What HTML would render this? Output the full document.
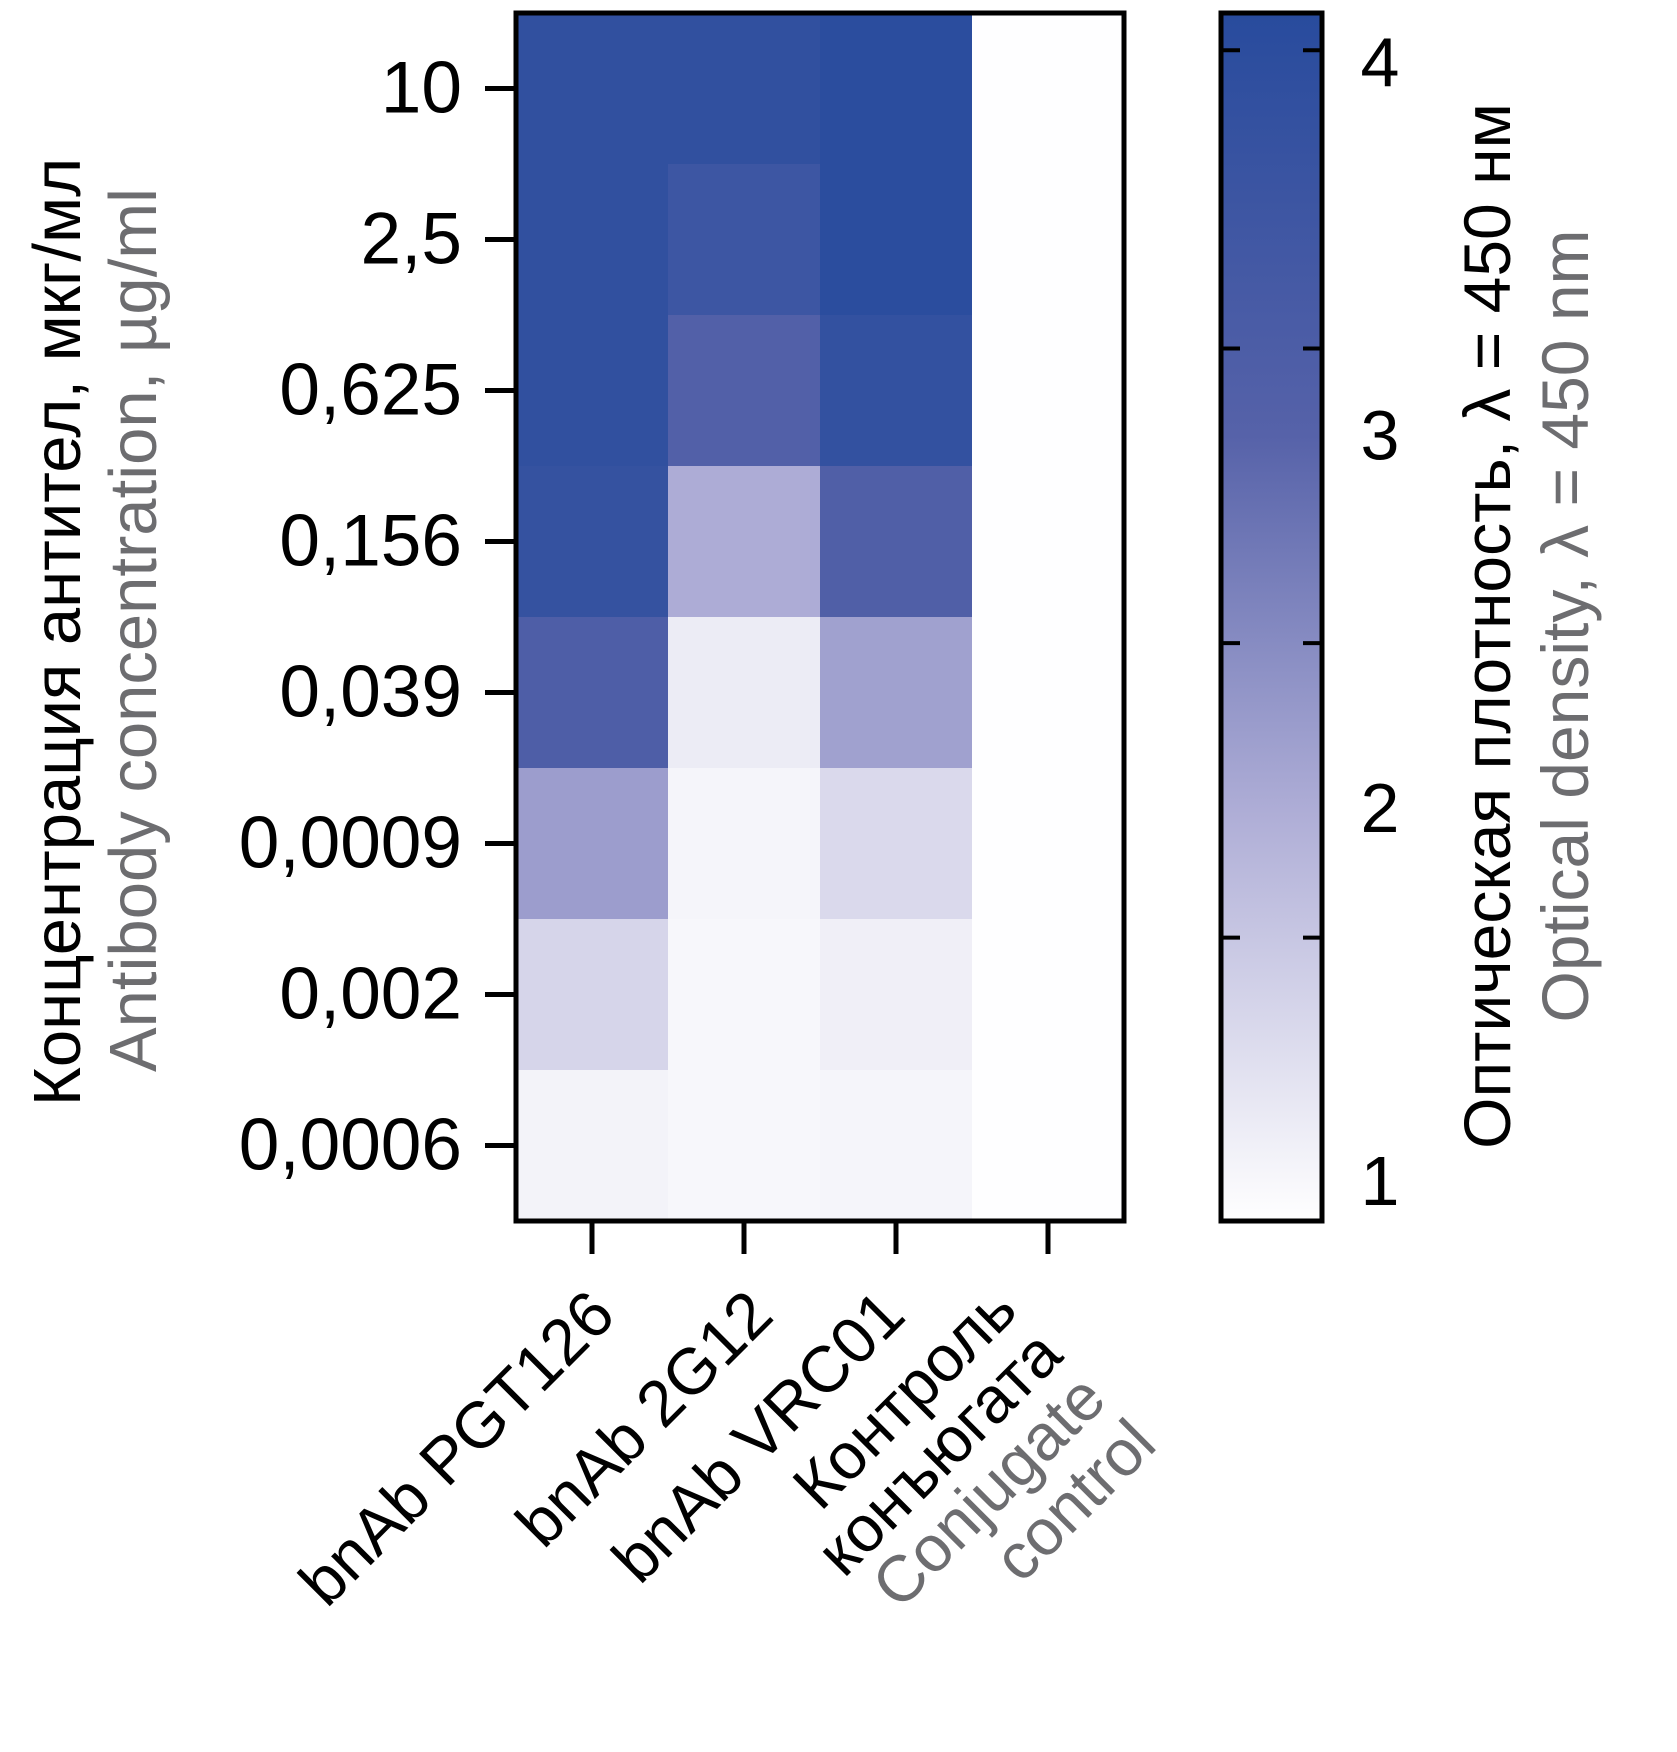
<!DOCTYPE html>
<html><head><meta charset="utf-8"><style>
html,body{margin:0;padding:0;background:#fff;}
svg{display:block;font-family:"Liberation Sans","Noto Sans CJK SC",sans-serif;}
</style></head><body>
<svg id="chart" width="1677" height="1752" viewBox="0 0 1677 1752" xmlns="http://www.w3.org/2000/svg">
<defs>
<linearGradient id="cbgrad" x1="0" y1="1" x2="0" y2="0">
<stop offset="0" stop-color="#ffffff"/>
<stop offset="0.34" stop-color="#aeadd6"/>
<stop offset="0.65" stop-color="#5662a9"/>
<stop offset="1" stop-color="#284b9d"/>
</linearGradient>
</defs>
<g id="cells"></g>
<rect x="516" y="13" width="608" height="1208" fill="none" stroke="#000" stroke-width="5"/>
<g id="yaxis"></g>
<g id="xaxis"></g>
<rect x="1221" y="13" width="101" height="1208" fill="url(#cbgrad)" stroke="#000" stroke-width="5"/>
<g id="cbaxis"></g>
<text transform="translate(80,632) rotate(-90)" text-anchor="middle" font-size="67" fill="#000">Концентрация антител, мкг/мл</text>
<text transform="translate(156,630) rotate(-90)" text-anchor="middle" font-size="67" fill="#6d6d70">Antibody concentration, µg/ml</text>
<text transform="translate(1510,626) rotate(-90)" text-anchor="middle" font-size="66" fill="#000">Оптическая плотность, λ = 450 нм</text>
<text transform="translate(1588,626) rotate(-90)" text-anchor="middle" font-size="66" fill="#6d6d70">Optical density, λ = 450 nm</text>
</svg>
<script>
const rowLabels = ["10","2,5","0,625","0,156","0,039","0,0009","0,002","0,0006"];
const colLabels = ["bnAb PGT126","bnAb 2G12","bnAb VRC01","Контроль конъюгата"];
const seriesPGT126 = [3.9,3.9,3.9,3.8,3.2,2.2,1.45,1.05];
const series2G12 = [3.9,3.6,3.1,2.0,1.15,1.03,1.0,1.0];
const seriesVRC01 = [4.05,4.05,3.85,3.15,2.15,1.4,1.1,1.02];
const seriesControl = [0.9,0.9,0.9,0.9,0.9,0.9,0.9,0.9];
const cbTicks = [1,2,3,4];
const cbMinorTicks = [1.65,2.44,3.23,4.03];

const NS="http://www.w3.org/2000/svg";
const X0=516,X1=1124,Y0=13,Y1=1221;
const cw=(X1-X0)/colLabels.length, rh=(Y1-Y0)/rowLabels.length;
const xPos=i=>X0+cw*i, yPos=j=>Y0+rh*j;
const vMin=0.89,vMax=4.13;
const cbY=v=>Y1-(v-vMin)/(vMax-vMin)*(Y1-Y0);
const stops=[[0,[255,255,255]],[0.34,[174,173,214]],[0.65,[86,98,169]],[1,[40,75,157]]];
function color(v){let t=Math.max(0,Math.min(1,(v-vMin)/(vMax-vMin)));
 for(let k=1;k<stops.length;k++){if(t<=stops[k][0]){const a=stops[k-1],b=stops[k];const f=(t-a[0])/(b[0]-a[0]);
 return "rgb("+a[1].map((c,i)=>Math.round(c+(b[1][i]-c)*f)).join(",")+")";}}return "rgb(40,75,157)";}
function mk(tag,attrs,parent){const e=document.createElementNS(NS,tag);for(const k in attrs)e.setAttribute(k,attrs[k]);parent.appendChild(e);return e;}
const series=[seriesPGT126,series2G12,seriesVRC01,seriesControl];
const cells=document.getElementById('cells');
series.forEach((s,i)=>s.forEach((v,j)=>{
 const r=mk('rect',{x:xPos(i),y:yPos(j),width:cw+0.5,height:rh+0.5,fill:color(v)},cells);
 
 
}));
const ya=document.getElementById('yaxis');
rowLabels.forEach((l,j)=>{const cy=yPos(j)+rh/2;
 const t=mk('line',{x1:485,x2:516,y1:cy,y2:cy,stroke:'#000','stroke-width':5},ya);
 
 
 const tx=mk('text',{x:462,y:cy+24,'text-anchor':'end','font-size':73,fill:'#000'},ya);tx.textContent=l;
 
 
});
const xa=document.getElementById('xaxis');
colLabels.forEach((l,i)=>{const cx=xPos(i)+cw/2;
 const t=mk('line',{x1:cx,x2:cx,y1:1221,y2:1254,stroke:'#000','stroke-width':5},xa);
 
 
});
const xl=[
 {t:"bnAb PGT126",x:618,y:1318,c:"#000"},
 {t:"bnAb 2G12",x:776,y:1318,c:"#000"},
 {t:"bnAb VRC01",x:908,y:1318,c:"#000"},
 {t:"Контроль",x:1020,y:1313,c:"#000"},
 {t:"конъюгата",x:1065,y:1358,c:"#000"},
 {t:"Conjugate",x:1109,y:1402,c:"#6d6d70"},
 {t:"control",x:1159,y:1447,c:"#6d6d70"}];
xl.forEach(o=>{const tx=mk('text',{transform:`translate(${o.x},${o.y}) rotate(-45)`,'text-anchor':'end','font-size':65,fill:o.c},xa);tx.textContent=o.t;
 
 
});
const cb=document.getElementById('cbaxis');
cbMinorTicks.forEach(v=>{const y=cbY(v);
 const a=mk('line',{x1:1221,x2:1240,y1:y,y2:y,stroke:'#000','stroke-width':4},cb);
 
 
 const b=mk('line',{x1:1303,x2:1322,y1:y,y2:y,stroke:'#000','stroke-width':4},cb);
 
 
});
cbTicks.forEach(v=>{const y=cbY(v);
 const tx=mk('text',{x:1380,y:y+25,'text-anchor':'middle','font-size':70,fill:'#000'},cb);tx.textContent=v;
 
 
});
</script>
</body></html>
